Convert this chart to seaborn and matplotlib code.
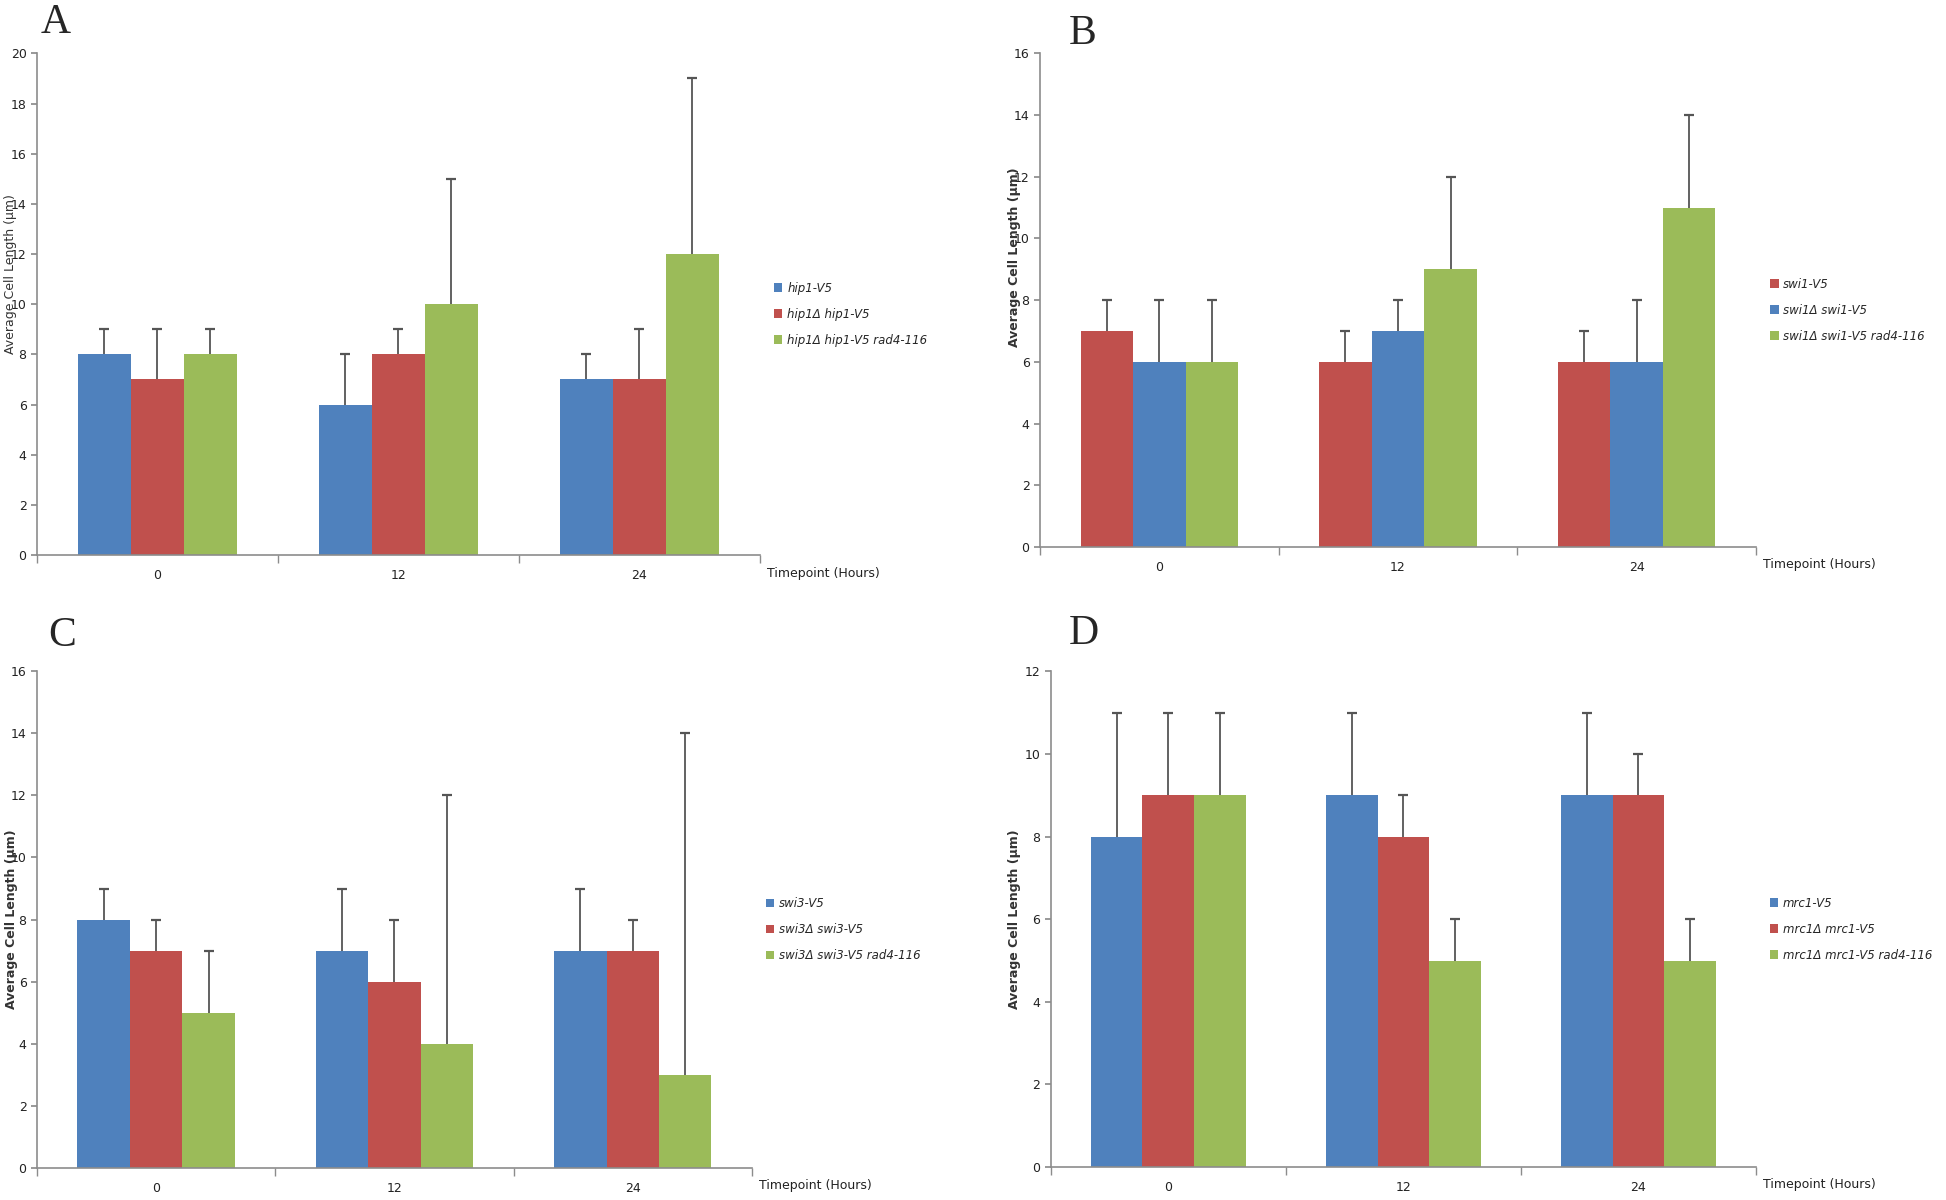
import numpy as np
import pandas as pd
import matplotlib
matplotlib.use("Agg")
import matplotlib.pyplot as plt
import seaborn as sns

sns.set_theme(style="white")
plt.rcParams['font.family'] = ['DejaVu Sans']

# data
timepoints = ["0", "12", "24"]

a_strains = ["hip1-V5", "hip1\u0394 hip1-V5", "hip1\u0394 hip1-V5 rad4-116"]
a_means = [[8, 6, 7], [7, 8, 7], [8, 10, 12]]
a_tops = [[9, 8, 8], [9, 9, 9], [9, 15, 19]]

b_strains = ["swi1-V5", "swi1\u0394 swi1-V5", "swi1\u0394 swi1-V5 rad4-116"]
b_means = [[7, 6, 6], [6, 7, 6], [6, 9, 11]]
b_tops = [[8, 7, 7], [8, 8, 8], [8, 12, 14]]

c_strains = ["swi3-V5", "swi3\u0394 swi3-V5", "swi3\u0394 swi3-V5 rad4-116"]
c_means = [[8, 7, 7], [7, 6, 7], [5, 4, 3]]
c_tops = [[9, 9, 9], [8, 8, 8], [7, 12, 14]]

d_strains = ["mrc1-V5", "mrc1\u0394 mrc1-V5", "mrc1\u0394 mrc1-V5 rad4-116"]
d_means = [[8, 9, 9], [9, 8, 9], [9, 5, 5]]
d_tops = [[11, 11, 11], [11, 9, 10], [11, 6, 6]]

blue = "#4F81BD"
red = "#C0504D"
green = "#9BBB59"
axis_grey = "#8c8c8c"

fig = plt.figure(figsize=(19.46, 12), dpi=100)


def panel(rect, letter, letter_pos, strains, means, tops, colors, ymax,
          ylab_pos, ylab_weight):
    ax = fig.add_axes(rect)
    rows = []
    for s, m in zip(strains, means):
        for t, v in zip(timepoints, m):
            rows.append({"time": t, "value": v, "strain": s})
    df = pd.DataFrame(rows)
    sns.barplot(data=df, x="time", y="value", hue="strain", order=timepoints,
                hue_order=strains, palette=colors, width=0.66, errorbar=None,
                saturation=1, linewidth=0, ax=ax)
    # upper error bars only, cap at the top
    for cont, m, t in zip(ax.containers, means, tops):
        xs = [p.get_x() + p.get_width() / 2 for p in cont.patches]
        ax.vlines(xs, m, t, color="#555555", linewidth=1.3, zorder=3)
        ax.plot(xs, t, ls="none", marker="_", markersize=7, mew=1.6,
                color="#555555", zorder=3)

    ax.set_xlim(-0.5, 2.5)
    ax.set_ylim(0, ymax)
    ax.set_yticks(np.arange(0, ymax + 1, 2))
    ax.set_xticks([0, 1, 2])
    ax.set_xticks([-0.5, 0.5, 1.5, 2.5], minor=True)
    ax.tick_params(axis="x", which="major", length=0, labelsize=9, pad=10,
                   labelcolor="#222222")
    ax.tick_params(axis="x", which="minor", length=6, color=axis_grey,
                   direction="out", bottom=True)
    ax.tick_params(axis="y", length=4, color=axis_grey, direction="out",
                   left=True, labelsize=9, labelcolor="#222222")
    for side in ["top", "right"]:
        ax.spines[side].set_visible(False)
    for side in ["left", "bottom"]:
        ax.spines[side].set_color(axis_grey)
        ax.spines[side].set_linewidth(1.2)

    ax.set_xlabel("")
    ax.set_ylabel("Average Cell Length (\u00b5m)", fontsize=9,
                  fontweight=ylab_weight, color="#333333")
    ax.yaxis.set_label_coords(*ylab_pos)
    ax.text(1.01, -0.036, "Timepoint (Hours)", transform=ax.transAxes,
            ha="left", va="center", fontsize=9, color="#222222")

    handles, labels = ax.get_legend_handles_labels()
    ax.legend(handles, labels, loc="center left", bbox_to_anchor=(1.005, 0.48),
              frameon=False, handlelength=0.7, handleheight=0.7,
              handletextpad=0.4, labelspacing=1.1,
              prop={"style": "italic", "size": 8.5})

    fig.text(letter_pos[0], letter_pos[1], letter, family="Liberation Serif",
             fontsize=30, ha="left", va="top")
    return ax


panel([0.019, 0.5375, 0.3715, 0.418], "A", (0.021, 0.997), a_strains, a_means,
      a_tops, [blue, red, green], 20, (-0.027, 0.56), "normal")
panel([0.5344, 0.544, 0.368, 0.4117], "B", (0.549, 0.988), b_strains, b_means,
      b_tops, [red, blue, green], 16, (-0.026, 0.587), "bold")
panel([0.019, 0.0267, 0.3674, 0.414], "C", (0.025, 0.486), c_strains, c_means,
      c_tops, [blue, red, green], 16, (-0.027, 0.5), "bold")
panel([0.540, 0.0275, 0.3623, 0.413], "D", (0.549, 0.488), d_strains, d_means,
      d_tops, [blue, red, green], 12, (-0.042, 0.5), "bold")

fig.savefig("out.png", dpi=100)
